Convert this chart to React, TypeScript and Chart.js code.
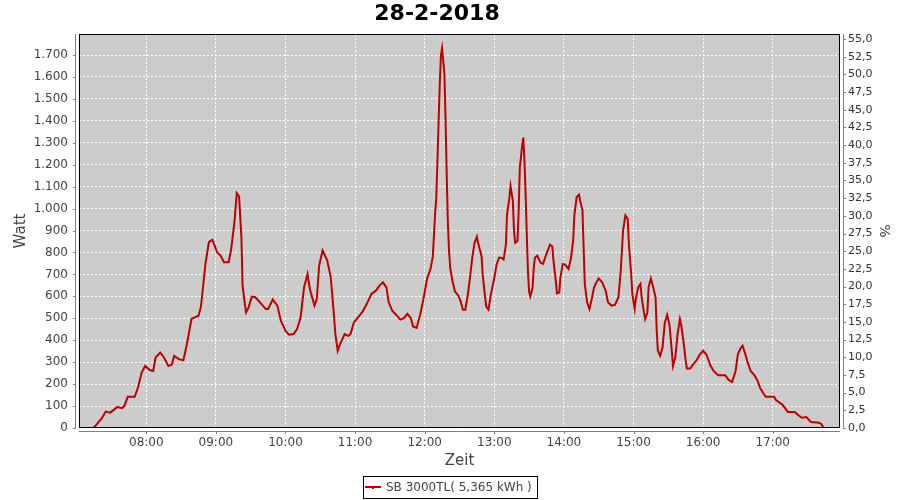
import React, { useEffect, useRef } from "react";
import { Chart, registerables } from "chart.js";

Chart.register(...registerables);

const chartTitle = "28-2-2018";
const seriesLabel = "SB 3000TL( 5,365 kWh )";
const xTitle = "Zeit";
const yTitle = "Watt";
const y2Title = "%";

const hourTicks = ["08:00", "09:00", "10:00", "11:00", "12:00", "13:00", "14:00", "15:00", "16:00", "17:00"];
const wattTicks = [0, 100, 200, 300, 400, 500, 600, 700, 800, 900, 1000, 1100, 1200, 1300, 1400, 1500, 1600, 1700];
const percentTicks = [0, 2.5, 5, 7.5, 10, 12.5, 15, 17.5, 20, 22.5, 25, 27.5, 30, 32.5, 35, 37.5, 40, 42.5, 45, 47.5, 50, 52.5, 55];

const times = [
  "07:14", "07:16", "07:22", "07:25", "07:29", "07:35", "07:39", "07:41", "07:44", "07:50",
  "07:53", "07:56", "07:59", "08:03", "08:06", "08:08", "08:12", "08:15", "08:19", "08:22",
  "08:24", "08:28", "08:32", "08:35", "08:39", "08:45", "08:47", "08:48", "08:51", "08:54",
  "08:57", "08:59", "09:01", "09:04", "09:07", "09:11", "09:13", "09:16", "09:18", "09:20",
  "09:22", "09:23", "09:25", "09:26", "09:28", "09:31", "09:34", "09:38", "09:43", "09:45",
  "09:49", "09:53", "09:56", "10:00", "10:03", "10:07", "10:10", "10:13", "10:16", "10:19",
  "10:21", "10:25", "10:27", "10:29", "10:32", "10:36", "10:39", "10:41", "10:43", "10:45",
  "10:47", "10:51", "10:54", "10:56", "10:59", "11:02", "11:06", "11:10", "11:14", "11:18",
  "11:21", "11:24", "11:27", "11:29", "11:32", "11:36", "11:39", "11:42", "11:45", "11:48",
  "11:50", "11:53", "11:56", "11:59", "12:02", "12:05", "12:07", "12:08", "12:09", "12:10",
  "12:11", "12:12", "12:13", "12:14", "12:15", "12:16", "12:17", "12:18", "12:19", "12:20",
  "12:21", "12:22", "12:24", "12:26", "12:29", "12:31", "12:33", "12:35", "12:37", "12:39",
  "12:41", "12:43", "12:45", "12:46", "12:49", "12:50", "12:52", "12:53", "12:55", "12:57",
  "13:00", "13:02", "13:04", "13:06", "13:08", "13:10", "13:11", "13:13", "13:14", "13:16",
  "13:17", "13:18", "13:20", "13:21", "13:22", "13:24", "13:25", "13:26", "13:27", "13:28",
  "13:29", "13:30", "13:31", "13:33", "13:34", "13:35", "13:37", "13:40", "13:42", "13:45",
  "13:48", "13:50", "13:51", "13:53", "13:54", "13:56", "13:57", "13:59", "14:01", "14:04",
  "14:06", "14:08", "14:09", "14:11", "14:13", "14:14", "14:16", "14:17", "14:18", "14:20",
  "14:22", "14:24", "14:26", "14:28", "14:30", "14:33", "14:36", "14:38", "14:41", "14:44",
  "14:47", "14:49", "14:51", "14:53", "14:55", "14:56", "14:58", "14:59", "15:01", "15:02",
  "15:04", "15:06", "15:07", "15:09", "15:10", "15:12", "15:13", "15:15", "15:17", "15:19",
  "15:20", "15:21", "15:23", "15:25", "15:27", "15:29", "15:31", "15:33", "15:34", "15:36",
  "15:38", "15:40", "15:41", "15:43", "15:45", "15:46", "15:49", "15:51", "15:54", "15:57",
  "16:00", "16:03", "16:06", "16:09", "16:13", "16:19", "16:22", "16:25", "16:28", "16:30",
  "16:32", "16:34", "16:36", "16:38", "16:41", "16:44", "16:47", "16:49", "16:52", "16:54",
  "17:01", "17:03", "17:08", "17:11", "17:13", "17:19", "17:22", "17:25", "17:29", "17:33",
  "17:40", "17:42", "17:44",
];

const watts = [
  0, 9, 47, 75, 70, 96, 90, 100, 142, 142,
  187, 253, 283, 264, 260, 321, 344, 324, 283, 288,
  329, 314, 309, 382, 497, 512, 550, 596, 748, 847,
  858, 830, 801, 786, 756, 756, 809, 938, 1071, 1056,
  870, 649, 565, 527, 547, 599, 596, 573, 542, 542,
  586, 558, 489, 443, 425, 428, 451, 504, 641, 702,
  634, 558, 588, 740, 809, 763, 687, 565, 428, 352,
  382, 428, 420, 428, 481, 501, 527, 565, 611, 626,
  649, 664, 641, 573, 535, 512, 494, 501, 520, 501,
  463, 456, 514, 590, 680, 725, 781, 880, 980, 1050,
  1217, 1400, 1568, 1700, 1732, 1674, 1613, 1400, 1150, 930,
  806, 730, 669, 623, 603, 577, 539, 539, 600, 684,
  776, 844, 872, 844, 783, 699, 600, 554, 539, 608,
  684, 745, 776, 776, 768, 836, 973, 1050, 1103, 1034,
  897, 844, 852, 989, 1187, 1286, 1324, 1217, 1065, 882,
  714, 623, 600, 638, 730, 776, 786, 753, 748, 794,
  836, 827, 763, 672, 614, 618, 687, 748, 745, 725,
  771, 855, 969, 1053, 1063, 1037, 992, 824, 657, 573,
  542, 588, 641, 664, 682, 664, 626, 573, 558, 561,
  596, 718, 900, 969, 954, 840, 702, 611, 542, 588,
  641, 657, 596, 527, 497, 527, 641, 682, 641, 596,
  443, 352, 329, 367, 480, 516, 470, 352, 283, 321,
  428, 497, 474, 398, 306, 271, 271, 288, 306, 334,
  352, 334, 288, 260, 241, 241, 219, 210, 260, 337,
  360, 375, 344, 306, 260, 242, 215, 184, 157, 143,
  143, 126, 108, 88, 73, 73, 59, 47, 50, 27,
  24, 17, 1,
];

const toMin = (s: string) => {
  const [h, m] = s.split(":").map(Number);
  return h * 60 + m;
};
const fmtTime = (v: number) => {
  const h = Math.floor(v / 60);
  const m = Math.round(v - h * 60);
  return String(h).padStart(2, "0") + ":" + String(m).padStart(2, "0");
};
const fmtWatt = (v: number) => {
  const s = String(Math.round(v));
  return s.replace(/\B(?=(\d{3})+(?!\d))/g, ".");
};
const fmtPct = (v: number) => v.toFixed(1).replace(".", ",");

const FONT = "'DejaVu Sans', sans-serif";
const TEXT = "#444444";
const LINE = "#BE0000";

const framePlugin = {
  id: "frame",
  beforeDraw(chart: any) {
    const { ctx, chartArea: a } = chart;
    ctx.save();
    ctx.fillStyle = "#CCCCCC";
    ctx.fillRect(a.left, a.top, a.right - a.left, a.bottom - a.top);
    ctx.restore();
  },
  afterDraw(chart: any) {
    const { ctx, chartArea: a, scales } = chart;
    ctx.save();
    ctx.strokeStyle = "#000000";
    ctx.lineWidth = 1;
    ctx.strokeRect(a.left + 0.5, a.top + 0.5, a.right - a.left - 1, a.bottom - a.top - 1);
    ctx.strokeStyle = "#808080";
    ctx.beginPath();
    ctx.moveTo(a.left - 3.5, a.top);
    ctx.lineTo(a.left - 3.5, a.bottom);
    ctx.moveTo(a.left, a.bottom + 3.5);
    ctx.lineTo(a.right, a.bottom + 3.5);
    ctx.moveTo(a.right + 3.5, a.top);
    ctx.lineTo(a.right + 3.5, a.bottom);
    ctx.stroke();
    ctx.beginPath();
    for (const t of wattTicks) {
      const y = Math.round(scales.y.getPixelForValue(t)) + 0.5;
      ctx.moveTo(a.left - 6, y);
      ctx.lineTo(a.left - 3, y);
    }
    for (const t of percentTicks) {
      const y = Math.round(scales.y2.getPixelForValue(t)) + 0.5;
      ctx.moveTo(a.right + 3, y);
      ctx.lineTo(a.right + 6, y);
    }
    for (const t of hourTicks) {
      const x = Math.round(scales.x.getPixelForValue(toMin(t))) + 0.5;
      ctx.moveTo(x, a.bottom + 4);
      ctx.lineTo(x, a.bottom + 6);
    }
    ctx.stroke();
    ctx.fillStyle = "#000000";
    ctx.font = "bold 22px " + FONT;
    ctx.textAlign = "center";
    ctx.textBaseline = "middle";
    ctx.fillText(chartTitle, 437, 14);
    ctx.strokeStyle = "#000000";
    ctx.lineWidth = 1;
    ctx.strokeRect(363.5, 476.5, 174, 22);
    ctx.strokeStyle = LINE;
    ctx.lineWidth = 2;
    ctx.beginPath();
    ctx.moveTo(365, 487);
    ctx.lineTo(381, 487);
    ctx.stroke();
    ctx.fillStyle = LINE;
    ctx.fillRect(372, 487, 2, 2);
    ctx.fillStyle = TEXT;
    ctx.font = "12px " + FONT;
    ctx.textAlign = "left";
    ctx.textBaseline = "middle";
    ctx.fillText(seriesLabel, 386, 488);
    ctx.restore();
  },
};

export default function App() {
  const ref = useRef<HTMLCanvasElement | null>(null);
  useEffect(() => {
    if (!ref.current) return;
    const data = times.map((t, i) => ({ x: toMin(t), y: watts[i] }));
    const chart = new Chart(ref.current, {
      type: "line",
      data: {
        datasets: [
          {
            label: seriesLabel,
            data,
            borderColor: LINE,
            backgroundColor: LINE,
            borderWidth: 2,
            pointRadius: 0,
            tension: 0,
            fill: false,
            yAxisID: "y",
          },
        ],
      },
      plugins: [framePlugin],
      options: {
        animation: false,
        responsive: false,
        maintainAspectRatio: false,
        layout: { padding: { top: 34, bottom: 30, left: 0, right: 0 } },
        plugins: {
          legend: { display: false },
          title: { display: false },
          tooltip: { enabled: false },
        },
        scales: {
          x: {
            type: "linear",
            min: 422,
            max: 1078,
            afterBuildTicks: (axis: any) => {
              axis.ticks = hourTicks.map((t) => ({ value: toMin(t) }));
            },
            afterFit: (axis: any) => {
              axis.height = 42;
            },
            ticks: {
              callback: (v: any) => fmtTime(Number(v)),
              font: { family: FONT, size: 12 },
              color: TEXT,
              padding: 8,
              maxRotation: 0,
              autoSkip: false,
            },
            grid: { color: "#FFFFFF", lineWidth: 1, drawTicks: false },
            border: { display: false, dash: [2, 2] },
            title: {
              display: true,
              text: xTitle,
              font: { family: FONT, size: 15 },
              color: TEXT,
              padding: { top: 0, bottom: 0 },
            },
          },
          y: {
            type: "linear",
            position: "left",
            min: 0,
            max: 1796,
            afterBuildTicks: (axis: any) => {
              axis.ticks = wattTicks.map((v) => ({ value: v }));
            },
            afterFit: (axis: any) => {
              axis.width = 79;
            },
            ticks: {
              callback: (v: any) => fmtWatt(Number(v)),
              font: { family: FONT, size: 12 },
              color: TEXT,
              padding: 11,
              autoSkip: false,
            },
            grid: { color: "#FFFFFF", lineWidth: 1, drawTicks: false },
            border: { display: false, dash: [2, 2] },
            title: {
              display: true,
              text: yTitle,
              font: { family: FONT, size: 15 },
              color: TEXT,
              padding: { top: 12, bottom: 0 },
            },
          },
          y2: {
            type: "linear",
            position: "right",
            min: 0,
            max: 55.71,
            afterBuildTicks: (axis: any) => {
              axis.ticks = percentTicks.map((v) => ({ value: v }));
            },
            afterFit: (axis: any) => {
              axis.width = 60;
            },
            ticks: {
              callback: (v: any) => fmtPct(Number(v)),
              font: { family: FONT, size: 11 },
              color: "#333333",
              padding: 8,
              autoSkip: false,
            },
            grid: { display: false, drawOnChartArea: false, drawTicks: false },
            border: { display: false },
            title: {
              display: true,
              text: y2Title,
              font: { family: FONT, size: 14 },
              color: TEXT,
              padding: { top: 8, bottom: 0 },
            },
          },
        },
      },
    } as any);
    return () => chart.destroy();
  }, []);
  return (
    <div style={{ position: "absolute", left: 0, top: 0, width: 900, height: 500 }}>
      <canvas ref={ref} width={900} height={500} />
    </div>
  );
}
